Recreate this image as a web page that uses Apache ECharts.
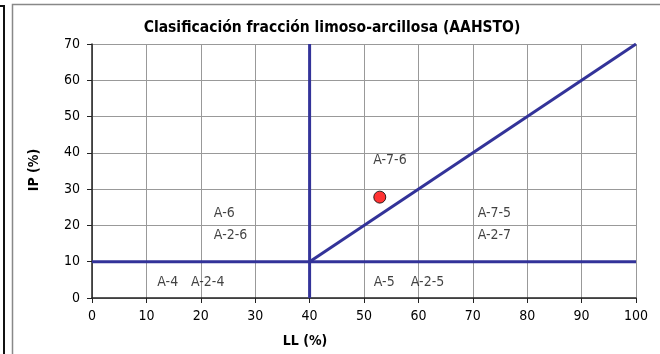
<!DOCTYPE html>
<html>
<head>
<meta charset="utf-8">
<script src="https://cdn.jsdelivr.net/npm/echarts@6/dist/echarts.min.js"></script>
<style>
  html, body { margin: 0; padding: 0; background: #fff; }
  #main { width: 660px; height: 354px; }
</style>
</head>
<body>
<div id="main"></div>
<script>
// limites del diagrama (LL, IP)
var lineaVertical = [[40, 0], [40, 70]];
var lineaHorizontal = [[0, 10], [100, 10]];
var lineaDiagonal = [[40, 10], [100, 70]];
// muestra
var muestra = [[52.9, 27.8]];
// rotulos de los grupos
var rotulos = [
  [51.7, 37.8, 'A-7-6'],
  [70.9, 23.3, 'A-7-5'],
  [70.9, 17.4, 'A-2-7'],
  [22.4, 23.3, 'A-6'],
  [22.4, 17.4, 'A-2-6'],
  [12.0, 4.4, 'A-4'],
  [18.2, 4.4, 'A-2-4'],
  [51.8, 4.4, 'A-5'],
  [58.6, 4.4, 'A-2-5']
];

var fuente = "'Liberation Sans Narrow', 'DejaVu Sans Condensed', sans-serif";
var azul = '#333399';

var myChart = echarts.init(document.getElementById('main'));
myChart.setOption({
  animation: false,
  textStyle: { fontFamily: fuente },
  title: {
    text: 'Clasificación fracción limoso-arcillosa (AAHSTO)',
    left: 327,
    textAlign: 'center',
    top: 15,
    textStyle: { fontFamily: fuente, fontSize: 15.5, fontWeight: 'bold', color: '#000' }
  },
  grid: { left: 92, right: 24, top: 44, bottom: 56 },
  xAxis: {
    type: 'value', min: 0, max: 100, interval: 10,
    axisLine: { onZero: false, lineStyle: { color: '#222', width: 1.5 } },
    axisTick: { length: 5, lineStyle: { color: '#222' } },
    axisLabel: { color: '#000', fontSize: 14, margin: 11, fontFamily: fuente },
    splitLine: { show: true, lineStyle: { color: '#999', width: 1 } }
  },
  yAxis: {
    type: 'value', min: 0, max: 70, interval: 10,
    axisLine: { show: true, onZero: false, lineStyle: { color: '#222', width: 1.5 } },
    axisTick: { show: true, length: 5, lineStyle: { color: '#222' } },
    axisLabel: { color: '#000', fontSize: 14, margin: 12, fontFamily: fuente },
    splitLine: { show: true, lineStyle: { color: '#999', width: 1 } }
  },
  graphic: [
    { type: 'polyline', shape: { points: [[0, 6], [4, 6], [4, 354]] }, style: { stroke: '#111', lineWidth: 2, fill: null } },
    { type: 'polyline', shape: { points: [[12.5, 354], [12.5, 4.5], [660, 4.5]] }, style: { stroke: '#888', lineWidth: 1.5, fill: null } },
    { type: 'text', x: 34, y: 170, rotation: Math.PI / 2, style: { text: 'IP (%)', font: 'bold 14px ' + fuente, fill: '#000', textAlign: 'center', textVerticalAlign: 'middle' } },
    { type: 'text', x: 305, y: 341, style: { text: 'LL (%)', font: 'bold 14px ' + fuente, fill: '#000', textAlign: 'center', textVerticalAlign: 'middle' } }
  ],
  series: [
    { type: 'line', data: lineaVertical, symbol: 'none', lineStyle: { color: azul, width: 3 } },
    { type: 'line', data: lineaHorizontal, symbol: 'none', lineStyle: { color: azul, width: 3 } },
    { type: 'line', data: lineaDiagonal, symbol: 'none', lineStyle: { color: azul, width: 3 } },
    {
      type: 'scatter', data: rotulos, symbolSize: 0,
      label: {
        show: true, position: 'right', distance: 0,
        formatter: function (p) { return p.value[2]; },
        fontFamily: fuente, fontSize: 14, color: '#111'
      }
    },
    {
      type: 'scatter', data: muestra, symbolSize: 12, z: 5,
      itemStyle: { color: '#ff0000', borderColor: '#000', borderWidth: 1 }
    }
  ]
});
</script>
</body>
</html>
